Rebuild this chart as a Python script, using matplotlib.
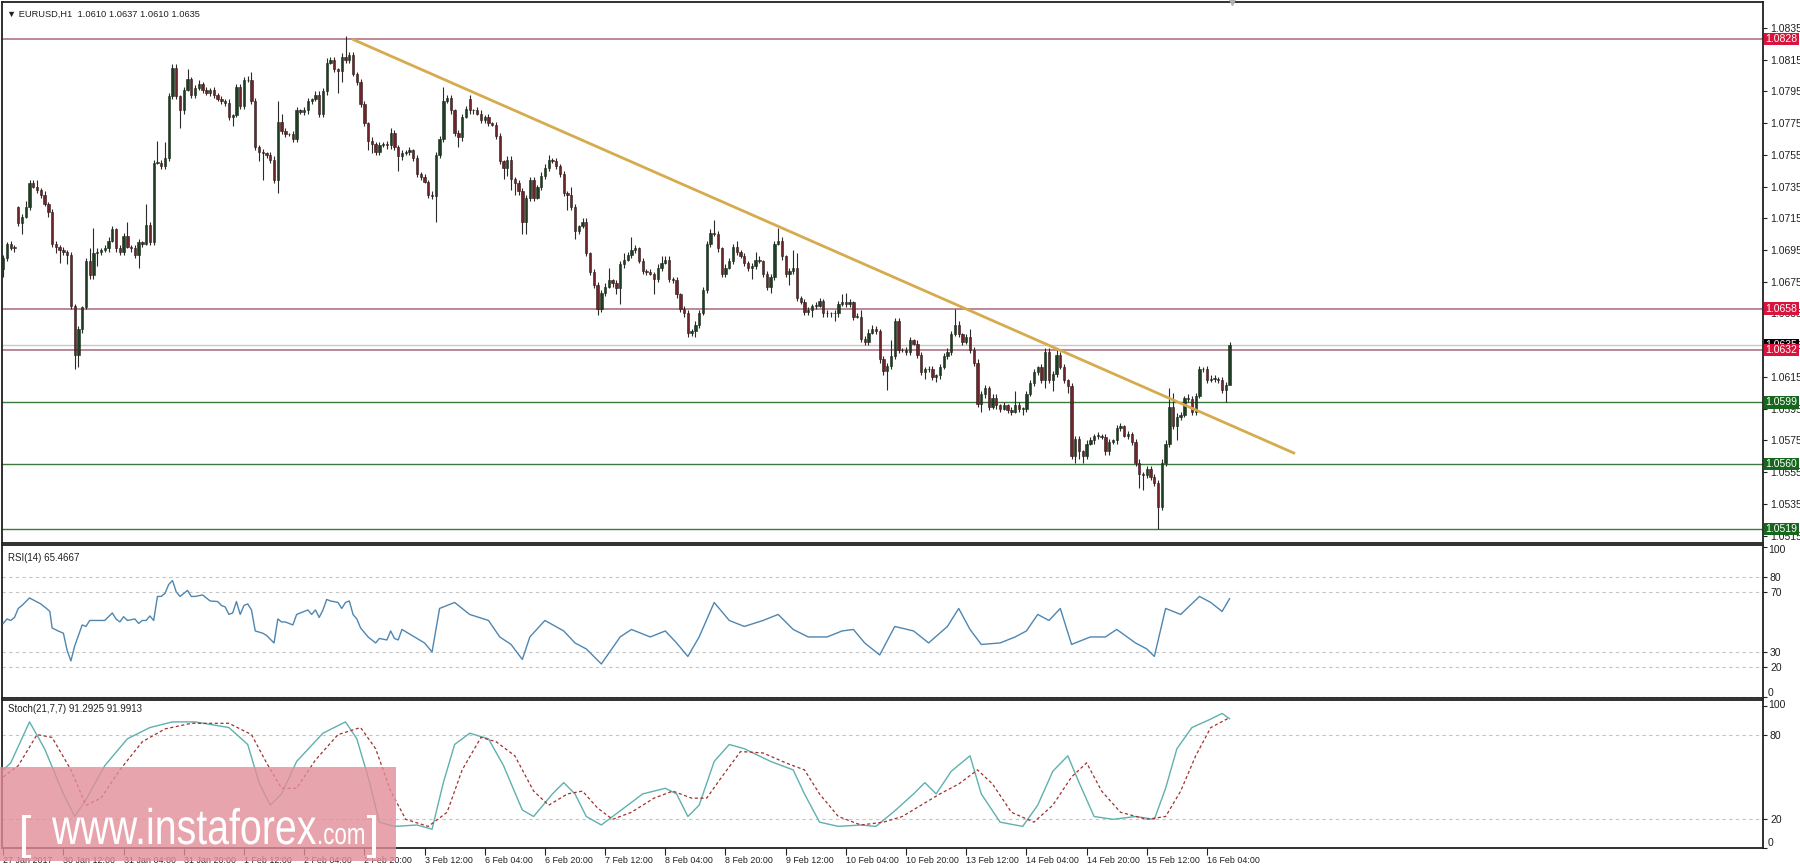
import numpy as np
import matplotlib
matplotlib.use("Agg")
import matplotlib.pyplot as plt
import matplotlib.transforms as mtransforms
from matplotlib.patches import Rectangle, PathPatch
from matplotlib.textpath import TextPath
from matplotlib.font_manager import FontProperties

plt.rcParams['font.family'] = ['Liberation Sans', 'DejaVu Sans']

# ---------------- data (prices in 1e-4 above 1.0000) ----------------
first_open = 683
gap_opens = {4: 722, 124: 790}

closes = [
    690, 699, 696, 697, 712, 716, 722, 737, 735, 733, 730, 724, 719, 699, 697, 695, 694, 692, 660, 629,
    645, 659, 688, 679, 693, 694, 695, 696, 701, 708, 696, 694, 704, 697, 696, 692, 700, 699, 711, 700,
    750, 750, 748, 753, 792, 810, 792, 783, 796, 803, 793, 797, 800, 796, 794, 796, 793, 790, 789, 788,
    779, 780, 798, 786, 802, 802, 789, 760, 757, 756, 755, 752, 739, 776, 770, 768, 768, 765, 783, 782,
    783, 789, 790, 793, 781, 795, 813, 815, 809, 808, 817, 815, 818, 806, 801, 787, 775, 764, 762, 757,
    761, 762, 761, 769, 760, 754, 756, 757, 758, 753, 743, 741, 738, 730, 729, 755, 765, 789, 791, 783,
    769, 766, 779, 784, 783, 783, 781, 777, 779, 775, 774, 767, 751, 747, 752, 740, 737, 732, 713, 728,
    739, 728, 735, 742, 747, 752, 751, 748, 743, 731, 730, 722, 707, 710, 713, 693, 681, 673, 658, 668,
    672, 676, 674, 671, 686, 689, 692, 695, 696, 688, 682, 681, 680, 677, 684, 687, 689, 677, 676, 667,
    658, 655, 643, 644, 648, 655, 670, 699, 706, 705, 696, 680, 684, 688, 697, 694, 691, 687, 684, 685,
    689, 688, 680, 672, 678, 699, 701, 691, 680, 682, 684, 665, 662, 656, 657, 660, 660, 663, 655, 655,
    655, 655, 661, 662, 661, 662, 653, 653, 639, 637, 643, 645, 644, 626, 619, 622, 628, 650, 632, 632,
    631, 638, 636, 629, 618, 620, 620, 615, 616, 621, 628, 631, 642, 648, 642, 637, 640, 632, 624, 598,
    604, 608, 596, 602, 597, 595, 597, 594, 593, 597, 595, 595, 604, 611, 618, 621, 613, 631, 613, 617,
    629, 621, 613, 609, 565, 576, 568, 565, 573, 575, 578, 578, 577, 568, 574, 575, 583, 584, 578, 579,
    574, 561, 554, 553, 557, 552, 548, 533, 561, 573, 596, 584, 590, 591, 602, 601, 593, 603, 620, 620,
    613, 614, 614, 613, 607, 610, 635,
]

wick_up = [
    2, 1, 2, 1, 1, 2, 4, 2, 2, 4, 1, 2, 1, 2, 2, 1, 2, 1, 2, 1,
    2, 1, 2, 8, 16, 2, 1, 2, 2, 2, 1, 2, 2, 9, 1, 2, 2, 1, 13, 2,
    2, 14, 2, 10, 2, 2, 2, 1, 2, 6, 1, 2, 2, 1, 2, 1, 2, 1, 2, 1,
    2, 1, 2, 2, 2, 3, 5, 2, 1, 2, 1, 2, 2, 13, 5, 2, 1, 2, 2, 1,
    2, 2, 1, 2, 2, 2, 3, 2, 2, 1, 2, 13, 2, 2, 1, 2, 2, 1, 2, 1,
    2, 1, 2, 3, 2, 1, 2, 1, 2, 1, 2, 1, 2, 1, 2, 2, 2, 9, 2, 2,
    1, 2, 2, 2, 3, 1, 2, 2, 1, 2, 1, 2, 2, 1, 2, 2, 1, 2, 2, 2,
    2, 2, 1, 2, 2, 3, 1, 2, 1, 2, 1, 5, 2, 1, 2, 2, 1, 2, 2, 2,
    2, 8, 1, 2, 2, 4, 2, 8, 2, 1, 2, 1, 2, 1, 2, 4, 2, 2, 1, 2,
    1, 2, 2, 1, 2, 2, 2, 2, 2, 8, 2, 1, 2, 2, 2, 4, 1, 2, 1, 2,
    5, 2, 1, 2, 2, 2, 8, 2, 1, 2, 11, 9, 1, 2, 2, 1, 2, 2, 1, 2,
    1, 2, 2, 5, 6, 2, 1, 2, 4, 2, 2, 3, 2, 1, 2, 2, 10, 2, 2, 1,
    2, 2, 1, 2, 2, 1, 2, 2, 1, 2, 2, 2, 2, 10, 2, 1, 2, 5, 2, 2,
    2, 2, 1, 2, 2, 1, 2, 1, 2, 9, 2, 1, 2, 2, 2, 1, 2, 2, 2, 2,
    3, 2, 2, 1, 2, 2, 2, 1, 2, 2, 1, 2, 1, 2, 2, 1, 2, 2, 1, 2,
    1, 2, 2, 1, 2, 2, 2, 2, 2, 2, 12, 9, 2, 2, 1, 2, 2, 2, 2, 1,
    2, 2, 2, 1, 2, 2, 2,
]

wick_dn = [
    5, 2, 1, 2, 2, 7, 1, 2, 1, 2, 2, 1, 3, 2, 4, 8, 2, 6, 2, 9,
    8, 2, 1, 2, 2, 8, 2, 1, 2, 1, 2, 2, 2, 1, 2, 2, 8, 2, 1, 2,
    2, 1, 2, 2, 2, 2, 2, 11, 2, 1, 2, 2, 1, 2, 1, 2, 2, 1, 2, 2,
    2, 6, 1, 2, 2, 1, 2, 2, 6, 17, 2, 2, 2, 8, 2, 2, 1, 2, 2, 1,
    2, 2, 2, 1, 2, 2, 2, 1, 2, 14, 7, 2, 2, 1, 2, 2, 2, 6, 6, 2,
    2, 1, 2, 2, 2, 9, 2, 1, 2, 2, 2, 2, 1, 2, 2, 16, 2, 2, 1, 2,
    2, 6, 2, 1, 2, 2, 1, 2, 2, 2, 1, 2, 2, 7, 5, 7, 7, 2, 8, 8,
    2, 2, 1, 2, 2, 2, 1, 2, 2, 2, 10, 2, 5, 2, 1, 2, 2, 2, 4, 2,
    2, 1, 2, 4, 10, 2, 1, 2, 2, 1, 2, 2, 1, 10, 2, 2, 1, 2, 2, 2,
    2, 2, 3, 2, 4, 2, 1, 2, 2, 1, 2, 2, 2, 1, 2, 2, 1, 2, 2, 7,
    2, 1, 2, 2, 4, 2, 1, 2, 2, 7, 2, 2, 1, 2, 2, 4, 2, 1, 2, 2,
    2, 5, 2, 1, 2, 2, 2, 1, 2, 2, 2, 1, 2, 2, 3, 12, 2, 2, 2, 1,
    2, 2, 1, 2, 2, 4, 2, 2, 3, 2, 1, 2, 2, 1, 2, 2, 1, 2, 2, 2,
    5, 2, 2, 1, 2, 2, 1, 2, 2, 1, 2, 4, 2, 1, 2, 2, 2, 5, 2, 7,
    2, 1, 2, 4, 2, 4, 5, 4, 2, 1, 2, 2, 1, 2, 2, 1, 2, 2, 1, 2,
    2, 2, 9, 9, 2, 2, 2, 14, 2, 2, 2, 2, 9, 2, 1, 2, 2, 2, 1, 2,
    2, 1, 2, 2, 2, 8, 0,
]

rsi_bars = [0, 1, 2, 3, 4, 5, 7, 8.5, 10, 11.5, 12.4, 13, 14.6, 16, 17, 18, 19, 21, 22, 23,
            25, 27, 29, 30, 31, 32, 33, 35, 36, 37, 38, 39, 40, 41, 42, 43, 44, 45, 46, 47,
            48, 49, 50, 51, 53, 54, 55, 57, 58, 59, 60, 61, 62, 63, 64, 65, 66, 67, 69, 70,
            72, 73, 74, 75, 77, 78, 79, 81, 82, 83, 84, 85, 86, 87, 89, 90, 91, 92, 93, 94,
            95, 97, 98, 99, 100, 102, 103, 104, 105, 106, 112, 114, 116, 120, 124, 129, 132, 135, 138, 140,
            144, 149, 152, 155, 159, 164, 167, 172, 176, 179, 182, 185, 189, 193, 197, 202, 206, 210, 214, 219,
            223, 226, 229, 233, 237, 242, 246, 251, 254, 257, 260, 265, 269, 272, 275, 278, 281, 284, 289, 293,
            296, 301, 304, 306, 309, 313, 318, 321, 324, 326]
rsi_vals = [49, 52, 51, 53, 59, 61, 66, 64, 62, 59, 57, 46, 44, 42.5, 31, 24, 34, 48, 47, 51,
            51, 51, 56, 52, 50, 53.5, 51, 52, 49, 51, 51, 54, 51, 67, 67, 69, 75, 77.6, 70, 67,
            69, 71, 67, 67, 68, 66, 64, 63.6, 61, 60, 55, 56, 63.6, 55, 61, 62, 58, 44, 42.5, 41,
            36, 52, 50, 50, 48, 55, 56, 58, 55, 58, 53, 58, 65, 64, 63, 59, 63, 64, 55, 52,
            46, 40, 38, 36, 39, 38, 44, 39, 38, 45, 36, 30, 59, 63, 55, 51, 40, 35, 25, 40,
            51, 44, 36, 32, 22, 40, 45, 40, 44, 36, 27, 40, 63, 51, 47, 51, 55, 45, 40, 40,
            44, 45, 36, 28, 47, 44, 36, 47, 59, 45, 35, 36, 40, 44, 55, 51, 59, 35, 40, 40,
            45, 36, 32, 27, 59, 55, 67, 63, 57, 65.5]

stoch_bars = [0, 2, 7, 11, 16, 19, 22, 27, 33, 39, 45, 51, 60, 65, 68, 71, 74, 78, 85, 91,
              94, 97, 100, 104, 110, 114, 117, 120, 124, 129, 133, 138, 141, 146, 149, 152, 155, 159, 164, 170,
              176, 179, 182, 185, 189, 193, 197, 204, 210, 213, 217, 222, 228, 232, 237, 242, 245, 248, 252, 257,
              260, 265, 271, 275, 279, 283, 286, 290, 295, 301, 306, 309, 312, 316, 321, 324, 326]
stoch_main = [55, 60, 89, 70, 38, 22, 34, 58, 77, 85, 89, 89, 85, 73, 46, 30, 38, 61, 81, 89,
              77, 50, 18, 15, 16, 13, 46, 73, 81, 77, 58, 26.6, 22, 38, 46, 38, 22, 16, 26, 38,
              42, 38, 22, 30, 61, 73, 70, 61, 55, 38, 18, 15, 16, 15, 26, 38, 46, 38, 54, 65,
              38, 18, 15, 30, 54, 65, 46, 22, 20, 22, 20, 42, 70, 85, 91, 95, 91.3]

sig_bars = [0, 4, 9, 13, 18, 22, 26, 31, 37, 43, 50, 60, 66, 70, 74, 78, 83, 89, 95, 99,
            103, 107, 113, 118, 122, 127, 131, 136, 141, 145, 150, 154, 158, 162, 167, 173, 178, 183, 187, 191,
            196, 202, 208, 213, 217, 222, 228, 234, 239, 244, 249, 254, 259, 263, 268, 274, 279, 284, 288, 292,
            297, 304, 309, 313, 317, 321, 326]
sig_vals = [50, 58, 80, 78, 55, 30, 35, 55, 75, 84, 88, 88, 80, 60, 42, 42, 62, 80, 85, 70,
            40, 20, 15, 25, 55, 78, 75, 65, 40, 30, 38, 40, 28, 20, 25, 35, 40, 35, 35, 50,
            68, 67, 60, 55, 38, 22, 16, 18, 22, 30, 38, 45, 55, 45, 25, 18, 30, 50, 60, 40,
            25, 20, 22, 40, 65, 85, 92]

hlines_red = [1.0828, 1.0658, 1.0632]
hlines_green = [1.0599, 1.0560, 1.0519]
bid_price = 1.0635
trend_pts = ([92.8, 343.4], [1.0828, 1.05667])

tick_bars = [0] + [16 + 16 * k for k in range(20)]
tick_labels = ["27 Jan 2017", "30 Jan 12:00", "31 Jan 04:00", "31 Jan 20:00", "1 Feb 12:00",
               "2 Feb 04:00", "2 Feb 20:00", "3 Feb 12:00", "6 Feb 04:00", "6 Feb 20:00",
               "7 Feb 12:00", "8 Feb 04:00", "8 Feb 20:00", "9 Feb 12:00", "10 Feb 04:00",
               "10 Feb 20:00", "13 Feb 12:00", "14 Feb 04:00", "14 Feb 20:00", "15 Feb 12:00",
               "16 Feb 04:00"]
price_ticks = [1.0515 + 0.002 * k for k in range(17)]
rsi_levels = [80, 70, 30, 20]
stoch_levels = [80, 20]

# ---------------- build OHLC ----------------
n = len(closes)
assert len(wick_up) == n and len(wick_dn) == n
c = np.array(closes, dtype=float)
o = np.concatenate([[first_open], c[:-1]])
for k, v in gap_opens.items():
    o[k] = v
hi = np.maximum(o, c) + np.array(wick_up)
lo = np.minimum(o, c) - np.array(wick_dn)
o, c, hi, lo = [1 + a * 1e-4 for a in (o, c, hi, lo)]
idx = np.arange(n)

W, H = 1800, 868
fig = plt.figure(figsize=(W / 100, H / 100), dpi=100)
fig.patch.set_facecolor('white')

def fx(px):
    return px / W

def fy(py):
    return 1 - py / H

left, width = fx(2), fx(1761)
ax = fig.add_axes([left, fy(543), width, (543 - 2) / H])
ax_rsi = fig.add_axes([left, fy(698), width, (698 - 545) / H])
ax_st = fig.add_axes([left, fy(848), width, (848 - 700) / H])

xlim = (-0.32, 467.8)
fs = 7.5
for a in (ax, ax_rsi, ax_st):
    a.set_xlim(*xlim)
    for s in a.spines.values():
        s.set_color('#202020')
        s.set_linewidth(1.3)
    a.yaxis.tick_right()
    a.tick_params(axis='y', direction='out', length=3, width=0.8, pad=2,
                  labelsize=fs, colors='#202020')
    a.set_xticks([])

# ---------------- main panel ----------------
ax.set_ylim(1.05103, 1.08514)
ax.set_yticks(price_ticks)
ax.set_yticklabels([f"{p:.4f}" for p in price_ticks])

up = c >= o
ax.vlines(idx, lo, hi, color='#2a2a2a', lw=0.8, zorder=3)
body_h = np.maximum(np.abs(c - o), 0.00003)
ax.bar(idx[up], body_h[up], bottom=np.minimum(o, c)[up], width=0.62,
       color='#1e3d22', edgecolor='#1a2a1a', lw=0.4, zorder=4)
ax.bar(idx[~up], body_h[~up], bottom=np.minimum(o, c)[~up], width=0.62,
       color='#6e2428', edgecolor='#2a1a1a', lw=0.4, zorder=4)

for p in hlines_red:
    ax.axhline(p, color='#b47f8c', lw=1.3, zorder=2)
for p in hlines_green:
    ax.axhline(p, color='#3d7a3d', lw=1.0, zorder=2)
ax.axhline(bid_price, color='#c8c8c8', lw=1.0, zorder=1)
ax.plot(trend_pts[0], trend_pts[1], color='#d6ab4e', lw=2.0, zorder=5,
        solid_capstyle='butt')

tr = mtransforms.blended_transform_factory(ax.transAxes, ax.transData)
def price_box(p, fc):
    ax.text(1.0015, p, f"{p:.4f}", transform=tr, ha='left', va='center', color='white',
            fontsize=fs, zorder=20, clip_on=False,
            bbox=dict(boxstyle='square,pad=0.12', fc=fc, ec='none'))

price_box(bid_price, '#000000')
for p in hlines_red:
    price_box(p, '#d9143c')
for p in hlines_green:
    price_box(p, '#17661e')

ax.text(0.003, 0.986, "\u25bc EURUSD,H1  1.0610 1.0637 1.0610 1.0635", transform=ax.transAxes,
        ha='left', va='top', fontsize=6.7, color='#202020')
ax.plot([326.6], [1.0], marker='v', ms=5, color='#b0b0b0',
        transform=mtransforms.blended_transform_factory(ax.transData, ax.transAxes),
        clip_on=False, zorder=6)

# labels for 100 / 0 sit inside the panel, as the terminal draws them
def end_labels(a, top_val, bot_val):
    off = mtransforms.ScaledTranslation(5 / 100, 0, fig.dpi_scale_trans)
    t = mtransforms.blended_transform_factory(a.transAxes, a.transData) + off
    a.text(1.0, top_val, "100", transform=t, ha='left', va='top', fontsize=fs,
           color='#202020', clip_on=False)
    a.text(1.0, bot_val, "0", transform=t, ha='left', va='bottom', fontsize=fs,
           color='#202020', clip_on=False)

# ---------------- RSI ----------------
ax_rsi.set_ylim(-0.7, 101.3)
ax_rsi.set_yticks([100] + rsi_levels + [0])
ax_rsi.set_yticklabels([''] + [str(v) for v in rsi_levels] + [''])
end_labels(ax_rsi, 101.3, -0.7)
for lv in rsi_levels + [0]:
    ax_rsi.axhline(lv, color='#c4c4c4', lw=0.8, ls=(0, (3, 3)), zorder=1)
ax_rsi.plot(rsi_bars, rsi_vals, color='#4f86b0', lw=1.0, zorder=3)
ax_rsi.text(0.0035, 0.95, "RSI(14) 65.4667", transform=ax_rsi.transAxes,
            ha='left', va='top', fontsize=7, color='#202020')

# ---------------- Stochastic ----------------
ax_st.set_ylim(-0.3, 104.5)
ax_st.set_yticks([100] + stoch_levels + [0])
ax_st.set_yticklabels([''] + [str(v) for v in stoch_levels] + [''])
end_labels(ax_st, 104.5, -0.3)
for lv in stoch_levels:
    ax_st.axhline(lv, color='#c4c4c4', lw=0.8, ls=(0, (3, 3)), zorder=1)
ax_st.plot(stoch_bars, stoch_main, color='#5fb0ae', lw=1.0, zorder=3)
ax_st.plot(sig_bars, sig_vals, color='#a0302e', lw=0.9, ls=(0, (2.5, 2)), zorder=3)
ax_st.text(0.0035, 0.97, "Stoch(21,7,7) 91.2925 91.9913", transform=ax_st.transAxes,
           ha='left', va='top', fontsize=7, color='#202020')

ax_st.set_xticks(tick_bars)
ax_st.set_xticklabels(tick_labels, ha='left')
ax_st.tick_params(axis='x', direction='out', length=5, width=0.8, pad=1,
                  labelsize=6.4, colors='#202020')

# ---------------- watermark ----------------
fig.patches.append(Rectangle((0, fy(861)), fx(396), (861 - 767) / H, transform=fig.transFigure,
                             facecolor='#e38e98', alpha=0.8, edgecolor='none', zorder=10))
wm_font = FontProperties(family='Liberation Sans')

def wm_text(s, x0, baseline, size, x1=None):
    tp = TextPath((0, 0), s, size=size, prop=wm_font)
    ext = tp.get_extents()
    sx = 1.0 if x1 is None else (x1 - x0) / ext.width
    t = mtransforms.Affine2D().translate(-ext.x0, 0).scale(sx, 1).translate(x0, H - baseline)
    fig.add_artist(PathPatch(tp, transform=t, fc='white', ec='none', zorder=11))

wm_text("[", 22, 848, 46)
wm_text("www.instaforex", 52, 844, 50, 316)
wm_text(".com", 319, 844, 30, 364)
wm_text("]", 367, 848, 46)

fig.savefig("out.png", dpi=100, facecolor='white')
